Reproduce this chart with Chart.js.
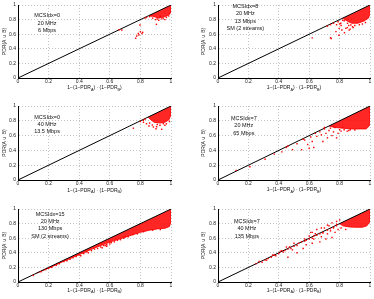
<!DOCTYPE html>
<html>
<head>
<meta charset="utf-8">
<script src="https://cdn.jsdelivr.net/npm/chart.js@4.4.0/dist/chart.umd.min.js"></script>
<style>
    body { margin: 0; background: #fff; }
    #fig { position: relative; width: 374px; height: 299px; overflow: hidden; }
    #fig canvas { position: absolute; }
</style>
</head>
<body>
<div id="fig"></div>
<script>
// Marcas de los ejes y linea de referencia y = x
const marcas = [0, 0.2, 0.4, 0.6, 0.8, 1];
const diagonal = [[0, 0], [1, 1]];

// Textos de cada panel
const textos1 = ['MCSIdx=0', '20 MHz', '6 Mbps'];
const textos2 = ['MCSIdx=8', '20 MHz', '13 Mbps', 'SM (2 streams)'];
const textos3 = ['MCSIdx=0', '40 MHz', '13.5 Mbps'];
const textos4 = ['MCSIdx=7', '20 MHz', '65 Mbps'];
const textos5 = ['MCSIdx=15', '20 MHz', '130 Mbps', 'SM (2 streams)'];
const textos6 = ['MCSIdx=7', '40 MHz', '135 Mbps'];

// Zona densa de cada nube (contorno) y puntos sueltos
const nucleo1 = [[0.86,0.86],[0.89,0.84],[0.92,0.82],[0.95,0.835],[0.98,0.855],[1.0,0.9],[1.0,1.0]];
const puntos1 = [[0.66,0.66],[0.678,0.658],[0.797,0.726],[0.905,0.735],[0.80,0.634],[0.786,0.61],[0.81,0.61],
    [0.79,0.59],[0.776,0.575],[0.769,0.545],[0.815,0.625],[0.84,0.83],[0.87,0.85],[0.88,0.82],[0.9,0.8],
    [0.92,0.79],[0.94,0.81],[0.96,0.8],[0.97,0.83],[0.985,0.85],[0.99,0.88],[0.86,0.84],[0.93,0.85],
    [0.83,0.82],[0.91,0.81],[0.95,0.82]];

const nucleo2 = [[0.82,0.82],[0.85,0.78],[0.88,0.75],[0.92,0.75],[0.96,0.78],[0.99,0.82],[1.0,0.88],[1.0,1.0]];
const puntos2 = [[0.62,0.55],[0.74,0.55],[0.745,0.54],[0.795,0.585],[0.832,0.62],[0.78,0.73],[0.80,0.74],
    [0.776,0.635],[0.797,0.68],[0.815,0.658],[0.841,0.68],[0.863,0.658],[0.874,0.726],[0.885,0.703],
    [0.852,0.749],[0.83,0.785],[0.808,0.749],[0.86,0.72],[0.9,0.72],[0.93,0.73],[0.95,0.74],[0.89,0.69],
    [0.82,0.79],[0.79,0.77],[0.76,0.75],[0.85,0.69],[0.87,0.67],[0.81,0.72],[0.97,0.76],[0.74,0.73],[0.72,0.71]];

const nucleo3 = [[0.85,0.85],[0.87,0.81],[0.89,0.78],[0.93,0.77],[0.96,0.78],[0.985,0.81],[1.0,0.88],[1.0,1.0]];
const puntos3 = [[0.754,0.70],[0.819,0.806],[0.856,0.73],[0.878,0.743],[0.885,0.716],[0.906,0.72],[0.902,0.693],
    [0.928,0.739],[0.939,0.685],[0.96,0.739],[0.82,0.78],[0.84,0.76],[0.86,0.77],[0.91,0.75],[0.95,0.76],
    [0.97,0.76],[0.99,0.79],[0.8,0.79],[0.83,0.82]];

const nucleo4 = [[0.73,0.73],[0.77,0.71],[0.82,0.70],[0.88,0.69],[0.94,0.69],[0.975,0.69],[0.995,0.73],[1.0,0.8],[1.0,1.0]];
const puntos4 = [[0.12,0.13],[0.21,0.18],[0.31,0.28],[0.37,0.35],[0.42,0.38],[0.45,0.44],[0.46,0.46],[0.49,0.41],
    [0.52,0.49],[0.55,0.41],[0.57,0.54],[0.59,0.48],[0.60,0.43],[0.61,0.58],[0.62,0.52],[0.65,0.59],[0.67,0.65],
    [0.69,0.52],[0.68,0.61],[0.71,0.63],[0.72,0.57],[0.73,0.67],[0.75,0.60],[0.76,0.65],[0.77,0.71],[0.79,0.63],
    [0.81,0.66],[0.83,0.68],[0.82,0.71],[0.78,0.57],[0.85,0.66],[0.87,0.68],[0.63,0.44],[0.8,0.68],[0.86,0.67],
    [0.9,0.675],[0.74,0.7],[0.7,0.69],[0.76,0.72],[0.56,0.55],[0.64,0.63],[0.7,0.71]];

const nucleo5 = [[0.12,0.12],[0.2,0.19],[0.3,0.285],[0.4,0.375],[0.5,0.465],[0.56,0.515],[0.62,0.56],[0.68,0.6],
    [0.74,0.64],[0.8,0.68],[0.86,0.71],[0.92,0.73],[0.96,0.735],[0.99,0.76],[1.0,0.83],[1.0,1.0]];
const puntos5 = [[0.1,0.09],[0.15,0.14],[0.18,0.17],[0.2,0.19],[0.22,0.2],[0.25,0.23],[0.27,0.25],[0.3,0.28],
    [0.32,0.29],[0.34,0.31],[0.36,0.33],[0.38,0.35],[0.4,0.37],[0.41,0.36],[0.43,0.39],[0.45,0.41],[0.46,0.4],
    [0.48,0.43],[0.5,0.45],[0.52,0.46],[0.54,0.48],[0.55,0.47],[0.57,0.5],[0.58,0.51],[0.6,0.52],[0.61,0.54],
    [0.63,0.55],[0.65,0.57],[0.67,0.58],[0.69,0.6],[0.7,0.62],[0.72,0.62],[0.75,0.65],[0.78,0.66],[0.82,0.69],
    [0.58,0.49],[0.56,0.5],[0.6,0.55],[0.54,0.53],[0.88,0.71],[0.93,0.72]];

const nucleo6 = [[0.8,0.8],[0.82,0.77],[0.86,0.755],[0.9,0.75],[0.95,0.75],[0.98,0.77],[1.0,0.83],[1.0,1.0]];
const puntos6 = [[0.27,0.28],[0.32,0.30],[0.37,0.37],[0.40,0.39],[0.42,0.43],[0.45,0.48],[0.46,0.34],[0.49,0.44],
    [0.50,0.53],[0.52,0.40],[0.55,0.55],[0.56,0.46],[0.57,0.59],[0.58,0.51],[0.60,0.63],[0.61,0.68],[0.62,0.53],
    [0.63,0.59],[0.64,0.66],[0.65,0.72],[0.67,0.55],[0.68,0.62],[0.69,0.68],[0.70,0.74],[0.71,0.59],[0.72,0.66],
    [0.73,0.77],[0.74,0.70],[0.75,0.61],[0.76,0.74],[0.77,0.68],[0.78,0.79],[0.79,0.72],[0.72,0.78],[0.75,0.81],
    [0.78,0.83],[0.8,0.85],[0.68,0.74],[0.62,0.68],[0.25,0.25],[0.29,0.27],[0.31,0.3],[0.33,0.32],[0.35,0.34],
    [0.36,0.37],[0.38,0.36],[0.41,0.42],[0.43,0.41],[0.44,0.43],[0.46,0.45],[0.47,0.48],[0.48,0.46],[0.5,0.49],
    [0.52,0.5],[0.53,0.53],[0.57,0.56],[0.58,0.57],[0.6,0.59],[0.62,0.6],[0.63,0.63],[0.65,0.64],[0.67,0.66],
    [0.69,0.67],[0.72,0.71],[0.74,0.73],[0.76,0.75],[0.78,0.77],[0.81,0.74],[0.84,0.72]];

const fuente = '"Liberation Sans", Arial, sans-serif';

// caja: lienzo en la figura, area: zona de trazado dentro del lienzo
const paneles = [
    { textos: textos1, nucleo: nucleo1, puntos: puntos1, caja: [0, 0, 187, 100],   area: [18, 5, 171, 78], texto: [0.19, 0.85], yTit: 5,  xTit: 10 },
    { textos: textos2, nucleo: nucleo2, puntos: puntos2, caja: [187, 0, 187, 100], area: [31, 5, 184, 78], texto: [0.18, 0.98], yTit: 17, xTit: 10 },
    { textos: textos3, nucleo: nucleo3, puntos: puntos3, caja: [0, 100, 187, 100], area: [18, 6, 171, 80], texto: [0.19, 0.85], yTit: 5,  xTit: 10.5 },
    { textos: textos4, nucleo: nucleo4, puntos: puntos4, caja: [187, 100, 187, 100], area: [31, 6, 184, 80], texto: [0.17, 0.83], yTit: 17, xTit: 10 },
    { textos: textos5, nucleo: nucleo5, puntos: puntos5, caja: [0, 200, 187, 99],  area: [18, 9, 171, 82], texto: [0.21, 0.93], yTit: 5,  xTit: 8.5 },
    { textos: textos6, nucleo: nucleo6, puntos: puntos6, caja: [187, 200, 187, 99], area: [31, 9, 184, 82], texto: [0.19, 0.83], yTit: 17, xTit: 8.5 }
];

function aXY(pares) {
    return pares.map(p => ({ x: p[0], y: p[1] }));
}

function eje(cual, tam) {
    return {
        type: 'linear',
        min: 0,
        max: 1,
        afterBuildTicks: a => { a.ticks = marcas.map(v => ({ value: v })); },
        afterFit: a => {
            if (cual === 'x') a.height = tam;
            else a.width = tam;
        },
        ticks: {
            color: '#222',
            font: { family: fuente, size: 5 },
            padding: cual === 'x' ? 0.5 : 2,
            maxRotation: 0,
            autoSkip: false,
            callback: v => String(v)
        },
        grid: {
            color: c => (c.tick && c.tick.value === 0) ? 'rgba(0,0,0,0)' : '#c4c4c4',
            lineWidth: 1,
            drawTicks: false
        },
        border: { color: '#000', width: 1, dash: [1, 2] }
    };
}

function rotulos(p) {
    return {
        id: 'rotulos',
        afterDraw(chart) {
            const ctx = chart.ctx;
            const a = chart.chartArea;
            const sx = chart.scales.x, sy = chart.scales.y;
            ctx.save();
            ctx.fillStyle = '#111';
            ctx.textAlign = 'center';
            ctx.textBaseline = 'middle';

            // Texto del panel
            ctx.font = '5.5px ' + fuente;
            const cx = sx.getPixelForValue(p.texto[0]);
            const y0 = sy.getPixelForValue(p.texto[1]);
            p.textos.forEach((t, i) => ctx.fillText(t, cx, y0 + i * 7.3));

            // Titulo eje x con subindices
            const partes = [['1\u2212(1\u2212PDR', false], ['A', true], [') \u00b7 (1\u2212PDR', false], ['B', true], [')', false]];
            const fNormal = '5px ' + fuente, fSub = '3.8px ' + fuente;
            let total = 0;
            partes.forEach(([t, sub]) => { ctx.font = sub ? fSub : fNormal; total += ctx.measureText(t).width; });
            let x = (a.left + a.right) / 2 - total / 2;
            const yt = a.bottom + p.xTit;
            ctx.textAlign = 'left';
            partes.forEach(([t, sub]) => {
                ctx.font = sub ? fSub : fNormal;
                ctx.fillText(t, x, sub ? yt + 1.5 : yt);
                x += ctx.measureText(t).width;
            });

            // Titulo eje y
            ctx.translate(p.yTit, (a.top + a.bottom) / 2);
            ctx.rotate(-Math.PI / 2);
            ctx.textAlign = 'center';
            ctx.font = fNormal;
            ctx.fillText('PDR(A \u222a B)', 0, 0);
            ctx.restore();
        }
    };
}

function crearPanel(p) {
    const canvas = document.createElement('canvas');
    canvas.width = p.caja[2];
    canvas.height = p.caja[3];
    canvas.style.left = p.caja[0] + 'px';
    canvas.style.top = p.caja[1] + 'px';
    document.getElementById('fig').appendChild(canvas);

    const [l, t, r, b] = p.area;

    new Chart(canvas, {
        type: 'scatter',
        data: {
            datasets: [{
                type: 'line',
                data: aXY(diagonal),
                borderColor: '#000',
                borderWidth: 1,
                pointRadius: 0,
                order: 1
            }, {
                data: aXY(p.puntos),
                backgroundColor: '#ff0000',
                borderWidth: 0,
                pointStyle: 'rect',
                pointRadius: 1,
                order: 0
            }, {
                type: 'line',
                data: aXY(p.nucleo),
                fill: 'shape',
                backgroundColor: 'rgba(255,0,0,0.85)',
                borderColor: 'rgba(255,0,0,0.85)',
                borderWidth: 1,
                pointRadius: 0,
                order: 2
            }]
        },
        options: {
            responsive: false,
            animation: false,
            events: [],
            layout: { padding: { left: 0, top: t, right: p.caja[2] - r, bottom: 0 } },
            plugins: {
                legend: { display: false },
                tooltip: { enabled: false }
            },
            scales: {
                x: eje('x', p.caja[3] - b),
                y: eje('y', l)
            }
        },
        plugins: [rotulos(p)]
    });
}

paneles.forEach(crearPanel);
</script>
</body>
</html>
